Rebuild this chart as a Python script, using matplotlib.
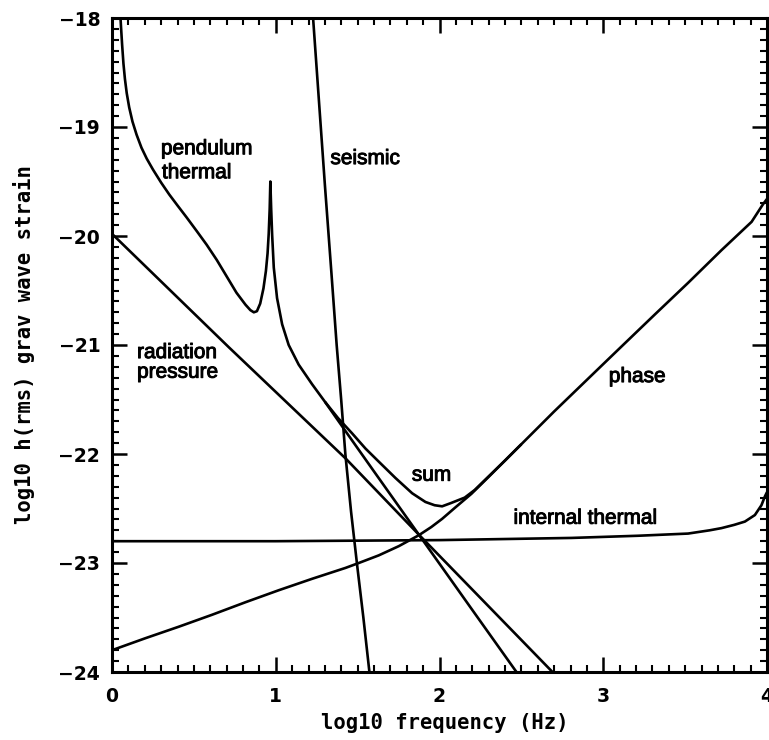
import matplotlib
matplotlib.use("Agg")
import matplotlib.pyplot as plt
import matplotlib.patheffects as pe
from matplotlib.ticker import MultipleLocator, FuncFormatter

# log10 frequency (Hz) and log10 rms strain for each noise contribution
pend_x = [0.040, 0.050, 0.055, 0.062, 0.070, 0.079, 0.090, 0.105, 0.125, 0.150,
          0.180, 0.212, 0.250, 0.300, 0.350, 0.400, 0.456, 0.520, 0.578, 0.640,
          0.700, 0.760, 0.815, 0.845, 0.866, 0.885, 0.905, 0.925, 0.940, 0.950,
          0.957, 0.963, 0.967, 0.972, 0.978, 0.988, 1.008, 1.039, 1.079, 1.140,
          1.222, 1.300, 1.426, 1.600, 1.874, 2.200, 2.470]
pend_y = [-17.70, -17.95, -18.08, -18.25, -18.42, -18.56, -18.69, -18.82, -18.95, -19.07,
          -19.19, -19.29, -19.39, -19.51, -19.62, -19.72, -19.83, -19.96, -20.08, -20.22,
          -20.37, -20.52, -20.63, -20.68, -20.70, -20.69, -20.62, -20.48, -20.32, -20.16,
          -19.98, -19.75, -19.50, -19.75, -19.99, -20.29, -20.57, -20.81, -21.00, -21.18,
          -21.36, -21.52, -21.79, -22.16, -22.74, -23.43, -24.00]

rad_x = [0.000, 0.713, 1.426, 1.874, 2.690]
rad_y = [-19.98, -21.02, -22.04, -22.74, -24.00]

seis_x = [1.215, 1.228, 1.260, 1.300, 1.340, 1.372, 1.400, 1.425, 1.460, 1.497, 1.535, 1.572]
seis_y = [-17.70, -18.00, -18.68, -19.53, -20.34, -21.00, -21.51, -22.00, -22.53, -23.02, -23.50, -24.00]

phase_x = [0.000, 0.204, 0.407, 0.611, 0.815, 1.018, 1.222, 1.426, 1.507, 1.629,
           1.752, 1.874, 1.950, 2.016, 2.093, 2.195, 2.300, 2.400, 2.500, 2.600,
           2.700, 2.800, 2.900, 3.000, 3.121, 3.315, 3.518, 3.722, 3.906, 3.975, 4.000]
phase_y = [-23.80, -23.69, -23.585, -23.475, -23.36, -23.25, -23.145, -23.045, -23.00, -22.93,
           -22.845, -22.745, -22.67, -22.595, -22.495, -22.365, -22.21, -22.06, -21.91, -21.76,
           -21.61, -21.465, -21.32, -21.175, -21.00, -20.72, -20.43, -20.13, -19.87, -19.71, -19.66]

int_x = [0.000, 1.000, 2.000, 2.806, 3.213, 3.518, 3.650, 3.722, 3.800, 3.865,
         3.926, 3.966, 3.987, 4.000]
int_y = [-22.80, -22.80, -22.79, -22.77, -22.75, -22.73, -22.70, -22.68, -22.65, -22.62,
         -22.56, -22.47, -22.39, -22.35]

sum_x = [1.300, 1.380, 1.466, 1.548, 1.629, 1.731, 1.833, 1.914, 1.970, 2.016,
         2.070, 2.154, 2.215, 2.297, 2.400, 2.500]
sum_y = [-21.52, -21.67, -21.81, -21.95, -22.07, -22.22, -22.36, -22.44, -22.47, -22.48,
         -22.45, -22.40, -22.33, -22.21, -22.06, -21.91]

curve_labels = [
    ("pendulum", 0.299, -19.25),
    ("thermal", 0.305, -19.47),
    ("seismic", 1.334, -19.34),
    ("radiation", 0.153, -21.12),
    ("pressure", 0.153, -21.30),
    ("sum", 1.831, -22.245),
    ("internal thermal", 2.452, -22.64),
    ("phase", 3.034, -21.34),
]

fig = plt.figure(figsize=(7.69, 7.40), dpi=100)
ax = fig.add_axes([112 / 769, 68 / 740, 655 / 769, 654 / 740])

lw = 1.9
for xs, ys in [(pend_x, pend_y), (rad_x, rad_y), (seis_x, seis_y),
               (phase_x, phase_y), (int_x, int_y), (sum_x, sum_y)]:
    ax.plot(xs, ys, color="black", lw=lw, solid_joinstyle="round",
            solid_capstyle="butt")

ax.set_xlim(0, 4)
ax.set_ylim(-24, -18)

heavy = [pe.withStroke(linewidth=0.7, foreground="black")]
for text, x, y in curve_labels:
    ax.text(x, y, text, ha="left", va="baseline", fontsize=15,
            family="Liberation Sans", color="black", path_effects=heavy)

ax.xaxis.set_major_locator(MultipleLocator(1))
ax.xaxis.set_minor_locator(MultipleLocator(0.1))
ax.yaxis.set_major_locator(MultipleLocator(1))
ax.yaxis.set_minor_locator(MultipleLocator(0.1))
ax.xaxis.set_major_formatter(FuncFormatter(lambda v, p: f"{v:.0f}"))
ax.yaxis.set_major_formatter(FuncFormatter(lambda v, p: f"\u2212{abs(v):.0f}" if v < 0 else f"{v:.0f}"))

ax.tick_params(which="both", direction="in", top=True, right=True, color="black")
ax.tick_params(which="major", length=11, width=1.8)
ax.tick_params(which="minor", length=5, width=1.5)
ax.tick_params(axis="x", which="major", pad=10.5)
ax.tick_params(axis="y", which="major", pad=8.5)
for lab in ax.get_xticklabels() + ax.get_yticklabels():
    lab.set_fontfamily("DejaVu Sans")
    lab.set_fontweight("bold")
    lab.set_fontsize(13.5)

for sp in ax.spines.values():
    sp.set_linewidth(2.2)
    sp.set_color("black")

ax.set_xlabel("log10 frequency (Hz)", family="DejaVu Sans Mono", fontweight="bold",
              fontsize=14.8, va="center")
ax.xaxis.set_label_coords(0.508, -0.078)
ax.set_ylabel("log10 h(rms) grav wave strain", family="DejaVu Sans Mono", fontweight="bold",
              fontsize=14.8, va="center")
ax.yaxis.set_label_coords(-0.134, 0.5)

fig.savefig("out.png", dpi=100)
